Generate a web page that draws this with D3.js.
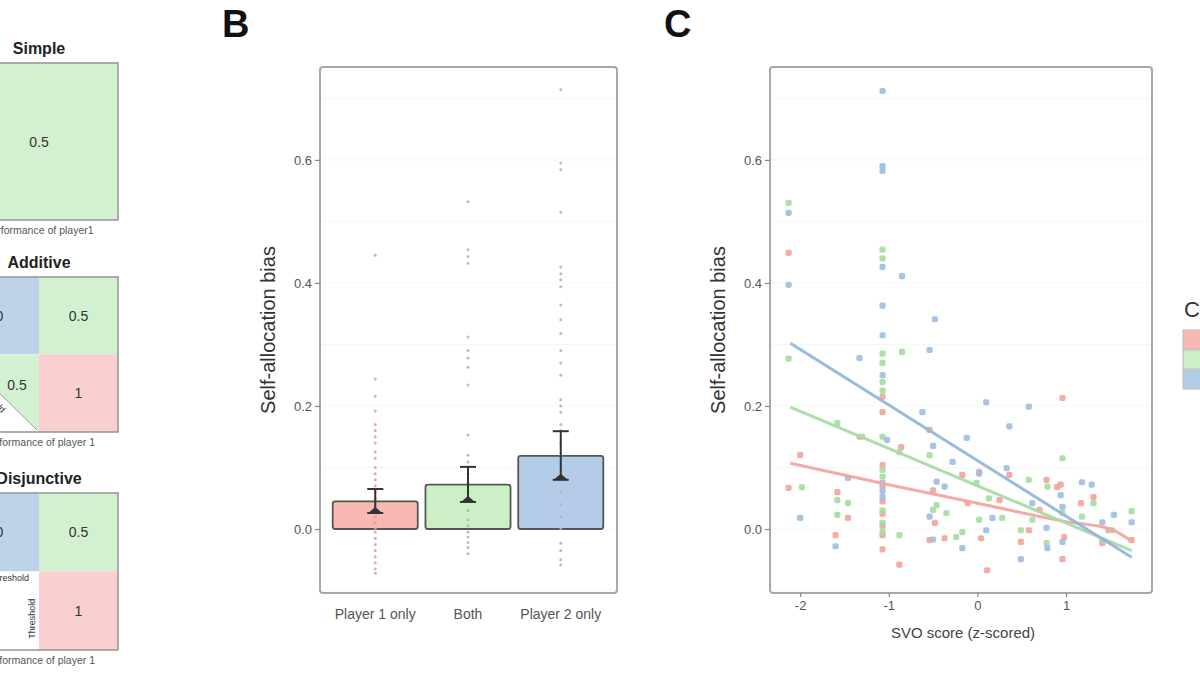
<!DOCTYPE html>
<html><head><meta charset="utf-8">
<script src="https://cdn.jsdelivr.net/npm/d3@7"></script>
<style>body{margin:0;background:#fff}svg{display:block}text{font-family:"Liberation Sans",Arial,sans-serif}</style>
</head><body>
<svg id="c" width="1200" height="675"></svg>
<script>
// ---------- DATA ----------
const conditions = ["Player 1 only", "Both", "Player 2 only"];
const barMeans = [0.045, 0.072, 0.119];
const ciLow = [0.026, 0.044, 0.080];
const ciHigh = [0.065, 0.101, 0.159];
const dotsP1 = [0.445,0.244,0.216,0.192,0.17,0.16,0.15,0.14,0.125,0.115,0.1,0.09,0.08,0.07,0.06,0.05,0.04,0.03,0.02,0.01,0.0,-0.005,-0.015,-0.025,-0.035,-0.045,-0.055,-0.065,-0.072];
const dotsBoth = [0.532,0.454,0.443,0.432,0.312,0.29,0.278,0.263,0.234,0.153,0.12,0.109,0.09,0.075,0.06,0.045,0.03,0.015,0.005,-0.005,-0.013,-0.022,-0.03,-0.04];
const dotsP2 = [0.714,0.595,0.584,0.515,0.426,0.415,0.405,0.394,0.364,0.34,0.318,0.29,0.27,0.25,0.21,0.2,0.19,0.17,0.16,0.14,0.12,0.1,0.08,0.06,0.04,0.02,0.0,-0.023,-0.035,-0.05,-0.058];
const yTicks = [0.0, 0.2, 0.4, 0.6];
const xTicksSVO = [-2, -1, 0, 1];
const xTickLabelsSVO = ["-2", "-1", "0", "1"];

const svoRed = [[-2.13,0.449],[-2.0,0.12],[-2.13,0.067],[-1.58,0.06],[-1.46,0.018],[-1.6,-0.01],[-1.33,0.15],[-1.07,0.215],[-1.07,0.19],[-1.07,0.104],[-1.07,0.07],[-1.07,0.045],[-1.07,0.025],[-1.07,0.005],[-1.07,-0.01],[-1.07,-0.033],[-0.86,0.133],[-0.88,-0.058],[-0.54,0.161],[-0.5,0.063],[-0.48,0.01],[-0.54,-0.018],[-0.37,-0.015],[-0.17,0.088],[-0.11,0.042],[0.02,0.093],[0.04,-0.015],[0.11,-0.067],[0.25,0.047],[0.36,0.088],[0.49,-0.021],[0.58,-0.002],[0.7,0.031],[0.78,0.08],[0.9,0.068],[0.94,0.072],[0.96,0.213],[0.98,-0.013],[0.96,-0.049],[1.17,0.042],[1.31,0.052],[1.41,-0.023],[1.48,-0.002],[1.74,-0.018]];
const svoGreen = [[-2.13,0.53],[-2.13,0.277],[-1.07,0.454],[-1.07,0.44],[-1.07,0.285],[-1.07,0.27],[-1.07,0.239],[-1.07,0.225],[-0.85,0.288],[-1.58,0.172],[-1.3,0.15],[-1.07,0.15],[-0.88,0.125],[-0.54,0.12],[0.96,0.115],[-1.07,0.096],[-1.07,0.085],[-1.98,0.068],[-1.58,0.047],[-1.46,0.042],[-1.58,0.023],[-1.07,0.03],[-1.07,0.01],[-1.07,-0.005],[-0.46,0.039],[-0.35,0.026],[-0.5,0.031],[-0.88,-0.01],[-0.17,-0.005],[-0.24,-0.013],[0.02,0.015],[0.13,0.05],[-0.01,0.075],[0.28,0.018],[0.58,0.08],[0.49,-0.002],[0.62,0.015],[0.78,-0.023],[0.96,0.026],[1.18,0.02],[1.31,0.042],[1.41,-0.018],[1.52,-0.002],[1.74,0.029],[0.79,0.069]];
const svoBlue = [[-2.13,0.514],[-2.13,0.397],[-1.07,0.712],[-1.07,0.59],[-1.07,0.582],[-1.07,0.426],[-0.85,0.411],[-1.07,0.363],[-0.48,0.341],[-1.07,0.315],[-0.54,0.291],[-1.33,0.278],[-1.07,0.25],[-0.62,0.19],[0.10,0.206],[0.58,0.199],[0.36,0.167],[-0.12,0.148],[-0.5,0.135],[-1.02,0.145],[-0.28,0.109],[0.33,0.099],[0.02,0.09],[-0.46,0.077],[-0.37,0.069],[-1.46,0.083],[-1.07,0.075],[-1.07,0.062],[-1.07,0.052],[-2.0,0.018],[-1.6,-0.028],[-0.54,0.02],[-0.5,-0.017],[-0.17,-0.031],[0.1,-0.002],[0.17,0.018],[0.49,-0.049],[0.62,0.042],[0.78,0.002],[0.79,-0.031],[0.94,0.055],[0.96,0.036],[0.96,-0.021],[1.18,0.076],[1.29,0.072],[1.41,0.011],[1.54,0.023],[1.74,0.011]];
const fitRed = [[-2.11,0.107],[-1,0.072],[0,0.042],[1,0.012],[1.5,0.0],[1.74,-0.02]];
const fitGreen = [[-2.11,0.198],[1.74,-0.035]];
const fitBlue = [[-2.11,0.302],[1.74,-0.046]];

const matrixTitles = ["Simple", "Additive", "Disjunctive"];
const matrixCaptions = ["Performance of player1", "Performance of player 1", "Performance of player 1"];

// ---------- STYLE ----------
const barFill = ["#f9b8b1", "#ccf0c6", "#b3cde8"];
const dotCol = ["#e39a94", "#a9b9a6", "#a6b3c4"];
const ptCol = ["#f4a29c", "#a6dca0", "#9dbde2"];
const lineCol = ["#f3a7a1", "#a9dba3", "#92b5de"];
const cellGreen = "#d3f0d0", cellBlue = "#bed3ea", cellRed = "#f9d0cf";

const svg = d3.select("#c");
const yDom = [-0.104, 0.751];

// ---------- PANEL A ----------
const A = svg.append("g");
const boxes = [{top:63,bottom:220,type:"simple"},{top:277,bottom:432,type:"additive"},{top:493,bottom:650,type:"disjunctive"}];
const bx0 = -40, bx1 = 118;
boxes.forEach((b, i) => {
  const xm = (bx0 + bx1) / 2, ym = (b.top + b.bottom) / 2;
  A.append("text").attr("x", xm).attr("y", b.top - 9).attr("text-anchor","middle")
    .attr("font-size", 16).attr("font-weight","bold").attr("fill","#222").text(matrixTitles[i]);
  const g = A.append("g");
  if (b.type === "simple") {
    g.append("rect").attr("x",bx0).attr("y",b.top).attr("width",bx1-bx0).attr("height",b.bottom-b.top).attr("fill",cellGreen);
    g.append("text").attr("x",xm).attr("y",ym+5).attr("text-anchor","middle").attr("font-size",14).attr("fill","#333").text("0.5");
  } else {
    g.append("rect").attr("x",bx0).attr("y",b.top).attr("width",xm-bx0).attr("height",ym-b.top).attr("fill",cellBlue);
    g.append("rect").attr("x",xm).attr("y",b.top).attr("width",bx1-xm).attr("height",ym-b.top).attr("fill",cellGreen);
    g.append("rect").attr("x",xm).attr("y",ym).attr("width",bx1-xm).attr("height",b.bottom-ym).attr("fill",cellRed);
    g.append("text").attr("x",(bx0+xm)/2).attr("y",(b.top+ym)/2+5).attr("text-anchor","middle").attr("font-size",14).attr("fill","#333").text("0");
    g.append("text").attr("x",(xm+bx1)/2).attr("y",(b.top+ym)/2+5).attr("text-anchor","middle").attr("font-size",14).attr("fill","#333").text("0.5");
    g.append("text").attr("x",(xm+bx1)/2).attr("y",(ym+b.bottom)/2+5).attr("text-anchor","middle").attr("font-size",14).attr("fill","#333").text("1");
    if (b.type === "additive") {
      g.append("rect").attr("x",bx0).attr("y",ym).attr("width",xm-bx0).attr("height",b.bottom-ym).attr("fill","#fff");
      g.append("path").attr("d",`M${bx0},${ym}L${xm},${ym}L${xm},${b.bottom}Z`).attr("fill",cellGreen);
      g.append("line").attr("x1",bx0).attr("y1",ym).attr("x2",xm-2).attr("y2",b.bottom-2).attr("stroke","#888").attr("stroke-width",0.8);
      g.append("text").attr("x",17).attr("y",ym+35).attr("text-anchor","middle").attr("font-size",14).attr("fill","#333").text("0.5");
      g.append("text").attr("transform",`translate(${(bx0+xm)/2-12},${(ym+b.bottom)/2+6}) rotate(45)`).attr("text-anchor","middle")
        .attr("font-size",9).attr("fill","#333").text("Threshold");
    } else {
      g.append("rect").attr("x",bx0).attr("y",ym).attr("width",xm-bx0).attr("height",b.bottom-ym).attr("fill","#fff");
      g.append("text").attr("x",xm-10).attr("y",ym+9).attr("text-anchor","end").attr("font-size",9).attr("fill","#333").text("Threshold");
      g.append("text").attr("transform",`translate(${xm-4},${(ym+b.bottom)/2+8}) rotate(-90)`).attr("text-anchor","middle")
        .attr("font-size",9).attr("fill","#333").text("Threshold");
    }
  }
  A.append("rect").attr("x",bx0).attr("y",b.top).attr("width",bx1-bx0).attr("height",b.bottom-b.top)
    .attr("fill","none").attr("stroke","#9a9a9a").attr("stroke-width",1.6);
  A.append("text").attr("x",xm).attr("y",b.bottom+14).attr("text-anchor","middle").attr("font-size",10.5).attr("fill","#555").text(matrixCaptions[i]);
});

// ---------- helpers ----------
function panelFrame(x0, x1, y) {
  const g = svg.append("g");
  d3.range(-0.1, 0.75, 0.1).forEach(v => {
    g.append("line").attr("x1",x0).attr("x2",x1).attr("y1",y(v)).attr("y2",y(v)).attr("stroke","#f6f6f6").attr("stroke-width",1);
  });
  return g;
}
function border(x0, x1, y0, y1) {
  svg.append("rect").attr("x",x0).attr("y",y0).attr("width",x1-x0).attr("height",y1-y0).attr("rx",3)
    .attr("fill","none").attr("stroke","#a8a8a8").attr("stroke-width",2);
}
function yAxis(x0, y) {
  const ax = svg.append("g").attr("transform",`translate(${x0},0)`)
    .call(d3.axisLeft(y).tickValues(yTicks).tickFormat(d3.format(".1f")).tickSize(5).tickPadding(3));
  ax.select(".domain").remove();
  ax.selectAll(".tick line").attr("stroke","#888").attr("stroke-width",1.2);
  ax.selectAll(".tick text").attr("font-size",13).attr("fill","#555").style("font-family","Liberation Sans, Arial, sans-serif");
}

// ---------- PANEL B ----------
const Bx0 = 320, Bx1 = 617, By0 = 67, By1 = 593;
const yB = d3.scaleLinear().domain(yDom).range([By1, By0]);
const xB = d3.scaleBand().domain(conditions).range([329, 607]).paddingInner(0.083).paddingOuter(0.04);
panelFrame(Bx0, Bx1, yB);
svg.append("text").attr("x",222).attr("y",37).attr("font-size",38).attr("font-weight","bold").attr("fill","#111").text("B");
const dotSets = [dotsP1, dotsBoth, dotsP2];
conditions.forEach((c, i) => {
  svg.append("rect").attr("x",xB(c)).attr("y",yB(barMeans[i])).attr("width",xB.bandwidth())
    .attr("height",yB(0)-yB(barMeans[i])).attr("rx",2.5)
    .attr("fill",barFill[i]).attr("stroke","#555").attr("stroke-width",1.8);
});
conditions.forEach((c, i) => {
  const cx = xB(c) + xB.bandwidth()/2;
  svg.append("g").selectAll("circle").data(dotSets[i]).join("circle")
    .attr("cx",cx).attr("cy",d=>yB(d)).attr("r",1.5).attr("fill",dotCol[i]).attr("opacity",0.85);
});
conditions.forEach((c, i) => {
  const cx = xB(c) + xB.bandwidth()/2;
  const g = svg.append("g").attr("stroke","#333").attr("stroke-width",2);
  g.append("line").attr("x1",cx).attr("x2",cx).attr("y1",yB(ciLow[i])).attr("y2",yB(ciHigh[i]));
  g.append("line").attr("x1",cx-8).attr("x2",cx+8).attr("y1",yB(ciLow[i])).attr("y2",yB(ciLow[i]));
  g.append("line").attr("x1",cx-8).attr("x2",cx+8).attr("y1",yB(ciHigh[i])).attr("y2",yB(ciHigh[i]));
  g.append("path").attr("d",`M${cx-7},${yB(ciLow[i])}L${cx},${yB(ciLow[i])-6}L${cx+7},${yB(ciLow[i])}Z`).attr("fill","#333").attr("stroke","none");
});
border(Bx0, Bx1, By0, By1);
yAxis(Bx0, yB);
const axB = svg.append("g").attr("transform",`translate(0,${By1})`).call(d3.axisBottom(xB).tickSize(0).tickPadding(16));
axB.select(".domain").remove();
axB.selectAll(".tick text").attr("font-size",14).attr("fill","#555").style("font-family","Liberation Sans, Arial, sans-serif");
svg.append("text").attr("transform",`translate(275,${(By0+By1)/2}) rotate(-90)`).attr("text-anchor","middle")
  .attr("font-size",20).attr("fill","#333").text("Self-allocation bias");

// ---------- PANEL C ----------
const Cx0 = 770, Cx1 = 1152;
const yC = d3.scaleLinear().domain(yDom).range([By1, By0]);
const xC = d3.scaleLinear().domain([-2.34, 1.97]).range([Cx0, Cx1]);
panelFrame(Cx0, Cx1, yC);
svg.append("text").attr("x",664).attr("y",37).attr("font-size",38).attr("font-weight","bold").attr("fill","#111").text("C");
const ptSets = [svoRed, svoGreen, svoBlue];
ptSets.forEach((s, i) => {
  svg.append("g").selectAll("rect").data(s).join("rect")
    .attr("x",d=>xC(d[0])-3.1).attr("y",d=>yC(d[1])-3.1).attr("width",6.2).attr("height",6.2).attr("rx",1.8)
    .attr("fill",ptCol[i]).attr("opacity",0.9);
});
const line = d3.line().x(d=>xC(d[0])).y(d=>yC(d[1])).curve(d3.curveMonotoneX);
[fitRed, fitGreen, fitBlue].forEach((f, i) => {
  svg.append("path").datum(f).attr("d",line).attr("fill","none").attr("stroke",lineCol[i]).attr("stroke-width",3).attr("opacity",0.95);
});
border(Cx0, Cx1, By0, By1);
yAxis(Cx0, yC);
const axC = svg.append("g").attr("transform",`translate(0,${By1})`)
  .call(d3.axisBottom(xC).tickValues(xTicksSVO).tickFormat((d, i) => xTickLabelsSVO[i]).tickSize(4).tickPadding(4));
axC.select(".domain").remove();
axC.selectAll(".tick line").attr("stroke","#888").attr("stroke-width",1.2);
axC.selectAll(".tick text").attr("font-size",13).attr("fill","#555").style("font-family","Liberation Sans, Arial, sans-serif");
svg.append("text").attr("x",963).attr("y",638).attr("text-anchor","middle").attr("font-size",15).attr("fill","#444").text("SVO score (z-scored)");
svg.append("text").attr("transform",`translate(725,${(By0+By1)/2}) rotate(-90)`).attr("text-anchor","middle")
  .attr("font-size",20).attr("fill","#333").text("Self-allocation bias");

// ---------- LEGEND (cut at right edge) ----------
svg.append("text").attr("x",1184).attr("y",317).attr("font-size",22).attr("fill","#333").text("Condition");
conditions.forEach((c, i) => {
  svg.append("rect").attr("x",1183).attr("y",330 + i*20).attr("width",30).attr("height",19)
    .attr("fill",barFill[i]).attr("stroke","#bbb").attr("stroke-width",1);
});
</script>
</body></html>
